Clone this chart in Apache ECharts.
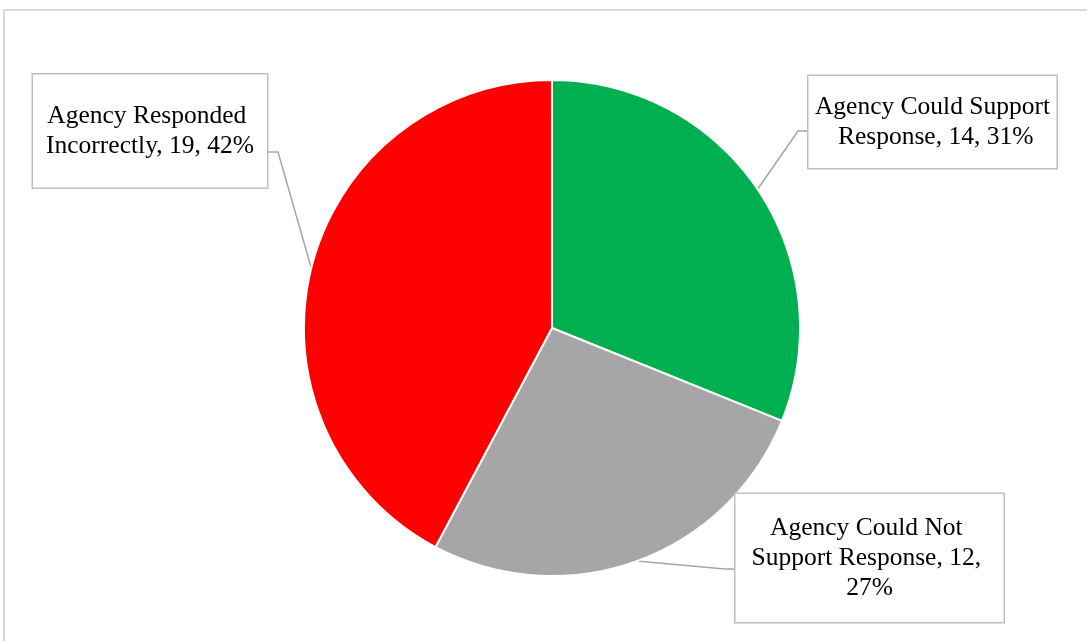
<!DOCTYPE html>
<html>
<head>
<meta charset="utf-8">
<script src="https://cdn.jsdelivr.net/npm/echarts@6/dist/echarts.min.js"></script>
<style>
html,body{margin:0;padding:0;background:#fff;}
#chart{width:1087px;height:641px;}
</style>
</head>
<body>
<div id="chart"></div>
<script>
const categories = ['Agency Could Support Response', 'Agency Could Not Support Response', 'Agency Responded Incorrectly'];
const values = [14, 12, 19];
const colors = ['#00B050', '#A6A6A6', '#FF0000'];

// label box layout (center of box, text width, padding, elbow point, line end on box edge)
const labelCfg = [
  { cx: 932.5, cy: 122, width: 236, pad: [19, 6, 13, 6], elbow: [798, 131], end: [808, 131] },
  { cx: 869.5, cy: 558, width: 236, pad: [20, 16, 18, 16], elbow: [725, 569], end: [735, 569] },
  { cx: 150, cy: 131, width: 212, pad: [29, 11, 24, 11], elbow: [278, 152], end: [267, 152] }
];

const chart = echarts.init(document.getElementById('chart'));
const data = categories.map((n, i) => ({
  name: n,
  value: values[i],
  itemStyle: { color: colors[i] },
  label: { width: labelCfg[i].width, padding: labelCfg[i].pad }
}));

chart.setOption({
  animation: false,
  graphic: [{
    type: 'rect',
    shape: { x: 4, y: 10, width: 1200, height: 800 },
    style: { fill: 'none', stroke: '#D9D9D9', lineWidth: 2 },
    silent: true
  }],
  series: [{
    type: 'pie',
    center: ['50.78%', '51.17%'],
    radius: '77.4%',
    startAngle: 90,
    clockwise: true,
    percentPrecision: 0,
    avoidLabelOverlap: false,
    itemStyle: { borderColor: '#fff', borderWidth: 2 },
    label: {
      show: true,
      position: 'outside',
      formatter: '{b}, {c}, {d}%',
      fontFamily: 'Liberation Serif',
      fontSize: 25.5,
      lineHeight: 30,
      color: '#000',
      align: 'center',
      overflow: 'break',
      backgroundColor: '#fff',
      borderColor: '#BFBFBF',
      borderWidth: 1.5
    },
    labelLine: {
      show: true,
      lineStyle: { color: '#A6A6A6', width: 1.5 }
    },
    labelLayout: function (p) {
      const c = labelCfg[p.dataIndex];
      const p0 = p.labelLinePoints ? p.labelLinePoints[0] : null;
      const out = { x: c.cx, y: c.cy, align: 'center', verticalAlign: 'middle' };
      if (p0) out.labelLinePoints = [p0, c.elbow, c.end];
      return out;
    },
    data: data
  }]
});
</script>
</body>
</html>
